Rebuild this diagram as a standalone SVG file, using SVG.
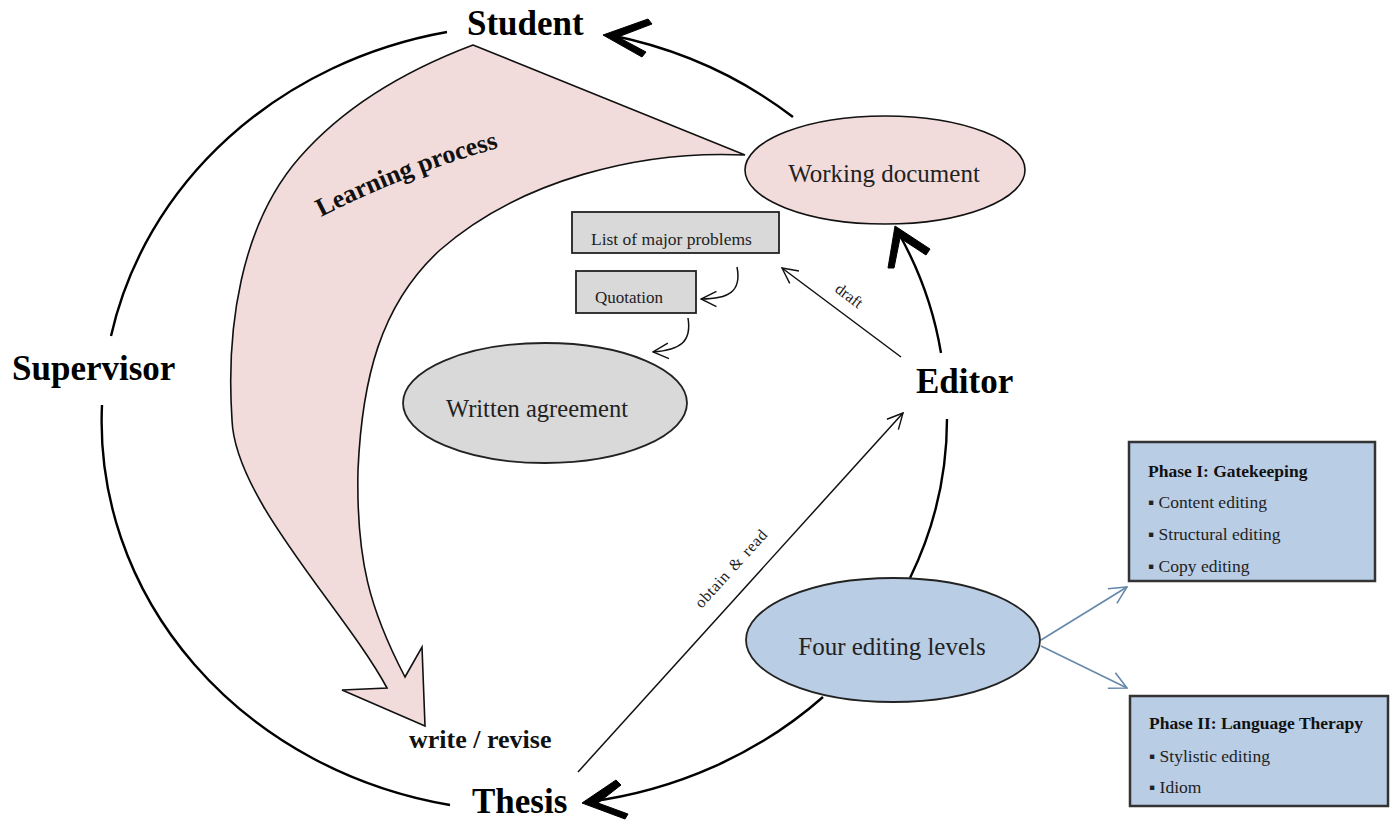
<svg xmlns="http://www.w3.org/2000/svg" width="1394" height="820" viewBox="0 0 1394 820">
<defs>
<style>
.arc{fill:none;stroke:#000;stroke-width:2.4}
.thin{fill:none;stroke:#111;stroke-width:1.5}
.blue{fill:none;stroke:#6688aa;stroke-width:1.6}
.head{fill:#000;stroke:#000;stroke-width:1;stroke-linejoin:miter}
.big{font-family:"Liberation Serif","Times New Roman",serif;font-weight:bold;font-size:35px;fill:#000}
.node{font-family:"Liberation Serif","Times New Roman",serif;fill:#222}
.bold{font-family:"Liberation Serif","Times New Roman",serif;font-weight:bold;fill:#111}
.pink{fill:#f2dcdb;stroke:#111;stroke-width:1.6}
.gray{fill:#d9d9d9;stroke:#222;stroke-width:1.8}
.bluef{fill:#b9cde5;stroke:#222;stroke-width:1.8}
.bbox{fill:#b9cde5;stroke:#333;stroke-width:2.5}
</style>
<marker id="open" viewBox="0 0 14 14" refX="13" refY="7" markerWidth="18" markerHeight="18" markerUnits="userSpaceOnUse" orient="auto"><path d="M1,1 L13,7 L1,13" fill="none" stroke="#111" stroke-width="1.1"/></marker>
<marker id="openb" viewBox="0 0 14 14" refX="13" refY="7" markerWidth="20" markerHeight="20" markerUnits="userSpaceOnUse" orient="auto"><path d="M1,1 L13,7 L1,13" fill="none" stroke="#6688aa" stroke-width="1.1"/></marker>
</defs>
<rect width="1394" height="820" fill="#fff"/>

<g id="learning-process">
<path class="pink" d="M473,45 L745,155 C640,150 520,180 440,250 C380,305 362,380 358,470 C356,560 370,610 405,677 L422,647 L425,726 L342,690 L387,688 C345,610 235,500 232,420 C226,330 240,225 300,157 C350,100 420,65 473,45 Z"/>
<path id="lpPath" d="M321,217 Q407,173 505,146" fill="none"/>
<text class="bold" font-size="26"><textPath href="#lpPath">Learning process</textPath></text>
</g>

<g id="connectors">
<path class="arc" d="M447,32 A426,390 0 0,0 111,336"/>
<path class="arc" d="M102,405 A426,390 0 0,0 450,805"/>
<path class="arc" d="M941,353 A426,390 0 0,0 898,232"/>
<path class="arc" d="M793,117 A426,390 0 0,0 610,35"/>
<path class="arc" d="M947,419 A426,390 0 0,1 910,578"/>
<path class="arc" d="M823,697 A426,390 0 0,1 588,802"/>
<polygon class="head" points="603,35 648,19 652,24 618,37 646,52 642,57"/>
<polygon class="head" points="895,226 888,268 894,268 900,238 926,255 930,249"/>
<polygon class="head" points="582,803 616,780 621,785 598,803 628,814 625,819"/>
<line class="thin" x1="901" y1="357" x2="782" y2="268" marker-end="url(#open)"/>
<line class="thin" x1="578" y1="772" x2="903" y2="413" marker-end="url(#open)"/>
<path class="thin" d="M737,267 C742,292 728,299 701,299" marker-end="url(#open)"/>
<path class="thin" d="M688,318 C692,342 680,350 653,352" marker-end="url(#open)"/>
<line class="blue" x1="1041" y1="640" x2="1127" y2="587" marker-end="url(#openb)"/>
<line class="blue" x1="1041" y1="646" x2="1127" y2="688" marker-end="url(#openb)"/>
<text class="node" font-size="16" transform="translate(846,300) rotate(36.6)" text-anchor="middle">draft</text>
<text class="node" font-size="16" transform="translate(735,572) rotate(-47.8)" text-anchor="middle" letter-spacing="0.6" word-spacing="2">obtain &amp; read</text>
<text class="bold" font-size="26" x="409" y="748">write / revise</text>
</g>

<g id="student"><text class="big" x="467" y="35">Student</text></g>
<g id="supervisor"><text class="big" x="12" y="380">Supervisor</text></g>
<g id="editor"><text class="big" x="916" y="393">Editor</text></g>
<g id="thesis"><text class="big" x="472" y="813">Thesis</text></g>

<g id="working-document">
<ellipse class="pink" cx="885" cy="170" rx="140" ry="54"/>
<text class="node" font-size="25" x="884" y="182" text-anchor="middle">Working document</text>
</g>

<g id="list-of-major-problems">
<rect class="gray" x="572" y="212" width="207" height="41"/>
<text class="node" font-size="17.5" x="591" y="245">List of major problems</text>
</g>

<g id="quotation">
<rect class="gray" x="576" y="271" width="120" height="42"/>
<text class="node" font-size="17" x="595" y="303">Quotation</text>
</g>

<g id="written-agreement">
<ellipse class="gray" cx="545" cy="403" rx="142" ry="60"/>
<text class="node" font-size="24.5" x="537" y="417" text-anchor="middle">Written agreement</text>
</g>

<g id="four-editing-levels">
<ellipse class="bluef" cx="893" cy="640" rx="147" ry="62"/>
<text class="node" font-size="25" x="892" y="655" text-anchor="middle">Four editing levels</text>
</g>

<g id="phase-1">
<rect class="bbox" x="1129" y="442" width="246" height="139"/>
<text class="bold" font-size="17.5" x="1148" y="477">Phase I: Gatekeeping</text>
<text class="node" font-size="17.5" x="1148" y="508">▪ Content editing</text>
<text class="node" font-size="17.5" x="1148" y="540">▪ Structural editing</text>
<text class="node" font-size="17.5" x="1148" y="572">▪ Copy editing</text>
</g>

<g id="phase-2">
<rect class="bbox" x="1130" y="696" width="258" height="110"/>
<text class="bold" font-size="17.5" x="1149" y="729">Phase II: Language Therapy</text>
<text class="node" font-size="17.5" x="1149" y="762">▪ Stylistic  editing</text>
<text class="node" font-size="17.5" x="1149" y="793">▪ Idiom</text>
</g>
</svg>
